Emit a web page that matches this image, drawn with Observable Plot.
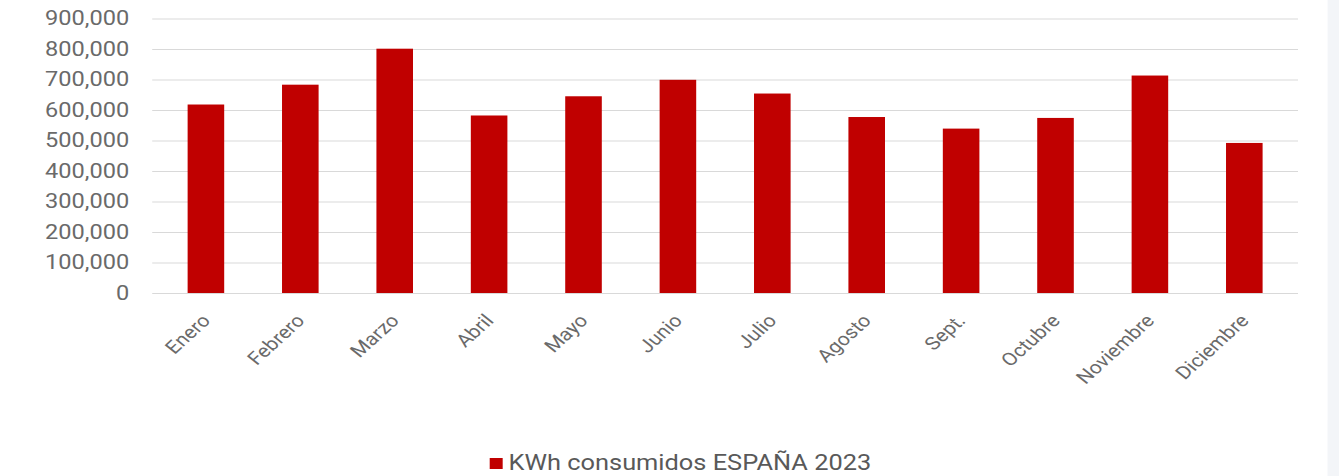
<!DOCTYPE html>
<html><head><meta charset="utf-8">
<script src="https://cdn.jsdelivr.net/npm/d3@7"></script>
<script src="https://cdn.jsdelivr.net/npm/@observablehq/plot@0.6"></script>
<style>
html,body{margin:0;padding:0;background:#f3f5f8;}
#wrap{width:1125px;height:476px;background:#fff;transform:scaleX(1.18);transform-origin:0 0;font-family:Roboto,sans-serif;overflow:hidden;}
#legend{height:56px;box-sizing:border-box;padding-top:30px;padding-left:415px;display:flex;align-items:center;color:#595959;font-size:21.5px;line-height:22px;}
#legend .sw{width:11px;height:11px;background:#c00000;margin-right:5px;display:inline-block;}
</style></head><body><div id="wrap"></div>
<script>
const months = ["Enero","Febrero","Marzo","Abril","Mayo","Junio","Julio","Agosto","Sept.","Octubre","Noviembre","Diciembre"];
const kwh = [618000, 683000, 801000, 582000, 645000, 699000, 654000, 577000, 539000, 574000, 713000, 492000];
const yTicks = [0,100000,200000,300000,400000,500000,600000,700000,800000,900000];
const seriesName = "KWh consumidos ESPAÑA 2023";
const barColor = "#c00000";

const data = months.map((m,i)=>({month:m, kwh:kwh[i]}));
const chart = Plot.plot({
  width:1125, height:420, marginLeft:129, marginRight:25, marginTop:18.5, marginBottom:127,
  style:{fontFamily:"Roboto, sans-serif", color:"#6a6a6a", background:"#fff"},
  x:{domain:months, paddingInner:0.61, paddingOuter:0.305, label:null},
  y:{domain:[0,900000], label:null},
  marks:[
    Plot.gridY(yTicks,{stroke:"#d9d9d9", strokeOpacity:1}),
    Plot.barY(data,{x:"month", y:"kwh", fill:barColor}),
    Plot.axisY(yTicks,{tickSize:0, tickPadding:20, tickFormat:d3.format(","), fontSize:20, label:null}),
    Plot.axisX({tickSize:0, tickRotate:-47, tickPadding:24, fontSize:18, label:null})
  ]
});
const wrap = document.getElementById("wrap");
wrap.appendChild(chart);
const leg = document.createElement("div");
leg.id = "legend";
leg.innerHTML = '<span class="sw"></span><span></span>';
leg.lastChild.textContent = seriesName;
wrap.appendChild(leg);
</script></body></html>
